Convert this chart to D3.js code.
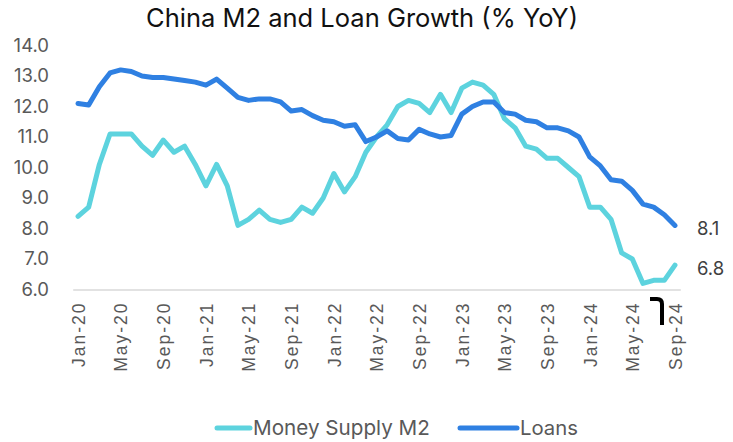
<!DOCTYPE html>
<html lang="en">
<head>
  <meta charset="UTF-8">
  <script src="https://cdn.jsdelivr.net/npm/d3@7/dist/d3.min.js"></script>
  <title>China M2 and Loan Growth</title>
  <style>
    body { margin: 0; background: #fff; }
    svg { display: block; }
  </style>
</head>
<body>
  <svg width="733" height="442" id="chart"></svg>
  <script>

  // months on the category axis
  const months = [
    "Jan-20","Feb-20","Mar-20","Apr-20","May-20","Jun-20","Jul-20","Aug-20","Sep-20","Oct-20","Nov-20","Dec-20",
    "Jan-21","Feb-21","Mar-21","Apr-21","May-21","Jun-21","Jul-21","Aug-21","Sep-21","Oct-21","Nov-21","Dec-21",
    "Jan-22","Feb-22","Mar-22","Apr-22","May-22","Jun-22","Jul-22","Aug-22","Sep-22","Oct-22","Nov-22","Dec-22",
    "Jan-23","Feb-23","Mar-23","Apr-23","May-23","Jun-23","Jul-23","Aug-23","Sep-23","Oct-23","Nov-23","Dec-23",
    "Jan-24","Feb-24","Mar-24","Apr-24","May-24","Jun-24","Jul-24","Aug-24","Sep-24"
  ];

  // % YoY
  const m2 = [
    8.4, 8.7, 10.1, 11.1, 11.1, 11.1, 10.7, 10.4, 10.9, 10.5, 10.7, 10.1,
    9.4, 10.1, 9.4, 8.1, 8.3, 8.6, 8.3, 8.2, 8.3, 8.7, 8.5, 9.0,
    9.8, 9.2, 9.7, 10.5, 11.0, 11.4, 12.0, 12.2, 12.1, 11.8, 12.4, 11.8,
    12.6, 12.8, 12.7, 12.4, 11.6, 11.3, 10.7, 10.6, 10.3, 10.3, 10.0, 9.7,
    8.7, 8.7, 8.3, 7.2, 7.0, 6.2, 6.3, 6.3, 6.8
  ];
  const loans = [
    12.1, 12.05, 12.65, 13.1, 13.2, 13.15, 13.0, 12.95, 12.95, 12.9, 12.85, 12.8,
    12.7, 12.9, 12.6, 12.3, 12.2, 12.25, 12.25, 12.15, 11.85, 11.9, 11.7, 11.55,
    11.5, 11.35, 11.4, 10.85, 11.0, 11.2, 10.95, 10.9, 11.25, 11.1, 11.0, 11.05,
    11.75, 12.0, 12.15, 12.15, 11.8, 11.75, 11.55, 11.5, 11.3, 11.3, 11.2, 11.0,
    10.35, 10.05, 9.6, 9.55, 9.25, 8.8, 8.7, 8.45, 8.1
  ];

  const yTicks = [6, 7, 8, 9, 10, 11, 12, 13, 14];
  const xTickLabels = months.filter((m, i) => i % 4 === 0);

  const series = [
    { name: "Money Supply M2", values: m2, color: "#5dd3de" },
    { name: "Loans", values: loans, color: "#2f80e2" }
  ];

  let svg = d3.select("#chart");
  const uiFont = "Inter, 'Open Sans', sans-serif";

  /* SCALES */
  let scaleX = d3.scalePoint()
    .domain(months)
    .range([72.7, 680.3])
    .padding(0.5);

  let scaleY = d3.scaleLinear()
    .domain([6, 14])
    .range([289.5, 45.5]);

  // change font size so a text spans the same width as in the picture
  function fitWidth(sel, target) {
    let fs = parseFloat(sel.style("font-size"));
    let w = sel.node().getComputedTextLength();
    sel.style("font-size", (fs * target / w).toFixed(2) + "px");
  }

  /* TITLE */
  let title = svg.append("text")
    .text("China M2 and Loan Growth (% YoY)")
    .attr("x", 146)
    .attr("y", 27)
    .style("font-family", uiFont)
    .style("font-size", "23px")
    .attr("fill", "#111");
  fitWidth(title, 432);

  /* Y AXIS (labels only) */
  let axisY = d3.axisLeft(scaleY)
    .tickValues(yTicks)
    .tickSize(0)
    .tickPadding(0)
    .tickFormat(d3.format(".1f"));

  let gy = svg.append("g")
    .attr("transform", "translate(49,0)")
    .call(axisY);
  gy.select(".domain").remove();
  gy.selectAll("text")
    .style("font-family", uiFont)
    .style("font-size", "18.5px")
    .attr("fill", "#595959");

  /* X AXIS */
  let axisX = d3.axisBottom(scaleX)
    .tickValues(xTickLabels)
    .tickSize(0)
    .tickPadding(0);

  let gx = svg.append("g")
    .attr("transform", "translate(0,289.5)")
    .call(axisX);
  gx.select(".domain")
    .attr("stroke", "#d9d9d9")
    .attr("stroke-width", 1.5);
  gx.selectAll("text")
    .attr("transform", "translate(0,12) rotate(-90)")
    .attr("text-anchor", "end")
    .attr("x", 0)
    .attr("y", 0)
    .attr("dy", "0.36em")
    .style("font-family", "'Liberation Sans', Arial, sans-serif")
    .style("font-size", "17.5px")
    .style("letter-spacing", "2px")
    .attr("fill", "#595959");

  /* LINES */
  let line = d3.line()
    .x((d, i) => scaleX(months[i]))
    .y(d => scaleY(d));

  svg.selectAll(".series")
    .data(series)
    .enter()
    .append("path")
    .attr("class", "series")
    .attr("d", d => line(d.values))
    .attr("fill", "none")
    .attr("stroke", d => d.color)
    .attr("stroke-width", 5)
    .attr("stroke-linejoin", "round")
    .attr("stroke-linecap", "round");

  // last value labels
  svg.selectAll(".endLabel")
    .data(series)
    .enter()
    .append("text")
    .attr("class", "endLabel")
    .text(d => d3.format(".1f")(d.values[d.values.length - 1]))
    .attr("x", scaleX(months[months.length - 1]) + 22)
    .attr("y", d => scaleY(d.values[d.values.length - 1]) + 3)
    .attr("dy", "0.36em")
    .style("font-family", uiFont)
    .style("font-size", "18.5px")
    .attr("fill", "#404040");

  // stray black mark next to the last tick
  svg.append("path")
    .attr("d", "M650,299 L657,299 Q662,299 662,304 L662,325")
    .attr("fill", "none")
    .attr("stroke", "#000")
    .attr("stroke-width", 4);

  /* LEGEND */
  const legendPos = [
    { x1: 217, x2: 250, tx: 253, tw: 177 },
    { x1: 460, x2: 517, tx: 520, tw: 58 }
  ];
  series.forEach((s, i) => {
    let p = legendPos[i];
    svg.append("line")
      .attr("x1", p.x1).attr("x2", p.x2)
      .attr("y1", 428).attr("y2", 428)
      .attr("stroke", s.color)
      .attr("stroke-width", 5)
      .attr("stroke-linecap", "round");
    let t = svg.append("text")
      .text(s.name)
      .attr("x", p.tx)
      .attr("y", 435)
      .style("font-family", uiFont)
      .style("font-size", "19px")
      .attr("fill", "#595959");
    fitWidth(t, p.tw);
  });

  </script>
</body>
</html>
